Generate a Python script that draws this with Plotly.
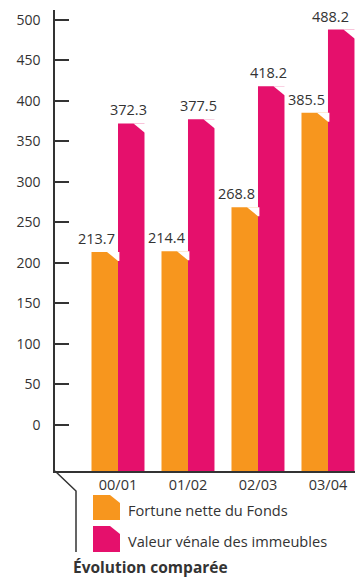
import plotly.graph_objects as go

# ---- data ----
categories = ["00/01", "01/02", "02/03", "03/04"]
fortune_nette = [213.7, 214.4, 268.8, 385.5]
valeur_venale = [372.3, 377.5, 418.2, 488.2]
series_names = ["Fortune nette du Fonds", "Valeur vénale des immeubles"]
tick_values = [0, 50, 100, 150, 200, 250, 300, 350, 400, 450, 500]
title_text = "Évolution comparée"

ORANGE = "#F7961E"
PINK = "#E5106C"
TXT = "#333333"
FONT = "Open Sans"

W, H = 355, 578
L, R, T, B = 55, 0, 10, 107
plot_w = W - L - R
plot_h = H - T - B

y_min, y_max = -56.8, 512.3
x_min, x_max = -0.9, 3.386
bargap = 0.243
bar_w = (1 - bargap) / 2


def px2paper(x, y):
    return (x - L) / plot_w, (H - B - y) / plot_h


fig = go.Figure()
for name, vals, col in [(series_names[0], fortune_nette, ORANGE),
                        (series_names[1], valeur_venale, PINK)]:
    fig.add_trace(go.Bar(
        x=list(range(len(categories))), y=[v - y_min for v in vals], base=y_min,
        name=name, marker=dict(color=col, line=dict(width=0)),
        showlegend=False, hoverinfo="skip",
    ))

# bevelled top-right corners + value labels (derived from data values)
dx = 11 / (plot_w / (x_max - x_min))
dy = 9 / (plot_h / (y_max - y_min))
shapes = []
annotations = []
n = len(categories)
for k, vals in enumerate([fortune_nette, valeur_venale]):
    for i, v in enumerate(vals):
        xr = i - bar_w + bar_w * (k + 1)
        xc = xr - bar_w / 2
        shapes.append(dict(
            type="path", xref="x", yref="y", layer="above",
            path=f"M {xr - dx} {v} L {xr + 0.02} {v} L {xr + 0.02} {v - dy} L {xr} {v - dy} Z",
            fillcolor="white", line=dict(width=0)))
        shift = -8 if k == 0 else (-2.5 if i < n - 1 else -11)
        annotations.append(dict(
            x=xc, y=v, xref="x", yref="y", text=f"{v:.1f}", showarrow=False,
            xanchor="center", yanchor="bottom", xshift=shift, yshift=2,
            font=dict(family=FONT, size=14.5, color=TXT)))

# decorative axis bracket
p0 = px2paper(55, 471)
p1 = px2paper(76, 491)
p2 = px2paper(76, 552)
shapes.append(dict(type="path", xref="paper", yref="paper",
                   path=f"M {p0[0]} {p0[1]} L {p1[0]} {p1[1]} L {p2[0]} {p2[1]}",
                   line=dict(color=TXT, width=1.5)))

# legend swatches with bevel
for (y0, y1), col, name in [((495, 520), ORANGE, series_names[0]),
                            ((526, 552), PINK, series_names[1])]:
    a = px2paper(93, y0)
    b = px2paper(110, y0)
    c = px2paper(120, y0 + 8)
    d = px2paper(120, y1)
    e = px2paper(93, y1)
    shapes.append(dict(type="path", xref="paper", yref="paper",
                       path=f"M {a[0]} {a[1]} L {b[0]} {b[1]} L {c[0]} {c[1]} L {d[0]} {d[1]} L {e[0]} {e[1]} Z",
                       fillcolor=col, line=dict(width=0)))
    tp = px2paper(126, (y0 + y1) / 2 + 2)
    annotations.append(dict(x=tp[0], y=tp[1], xref="paper", yref="paper",
                            text=name, showarrow=False, xanchor="left",
                            yanchor="middle",
                            font=dict(family=FONT, size=14.6, color=TXT)))

tp = px2paper(71, 566.5)
annotations.append(dict(x=tp[0], y=tp[1], xref="paper", yref="paper",
                        text=f"<b>{title_text}</b>", showarrow=False,
                        xanchor="left", yanchor="middle",
                        font=dict(family=FONT, size=15.5, color=TXT)))

fig.update_layout(
    width=W, height=H, margin=dict(l=L, r=R, t=T, b=B, pad=0),
    paper_bgcolor="white", plot_bgcolor="white",
    barmode="group", bargap=bargap, bargroupgap=0,
    shapes=shapes, annotations=annotations, showlegend=False,
    xaxis=dict(range=[x_min, x_max], showgrid=False, zeroline=False,
               tickvals=list(range(n)), ticktext=categories,
               showline=True, linecolor=TXT, linewidth=1.5, ticks="",
               tickfont=dict(family=FONT, size=14.5, color=TXT),
               ticklabelstandoff=0, fixedrange=True),
    yaxis=dict(range=[y_min, y_max], tickvals=tick_values, showgrid=False,
               zeroline=False, showline=True, linecolor=TXT, linewidth=1.5,
               ticks="inside", ticklen=14, tickwidth=1.5, tickcolor=TXT,
               tickfont=dict(family=FONT, size=14, color=TXT),
               ticklabelstandoff=10, fixedrange=True),
)

fig.write_html("out.html")
